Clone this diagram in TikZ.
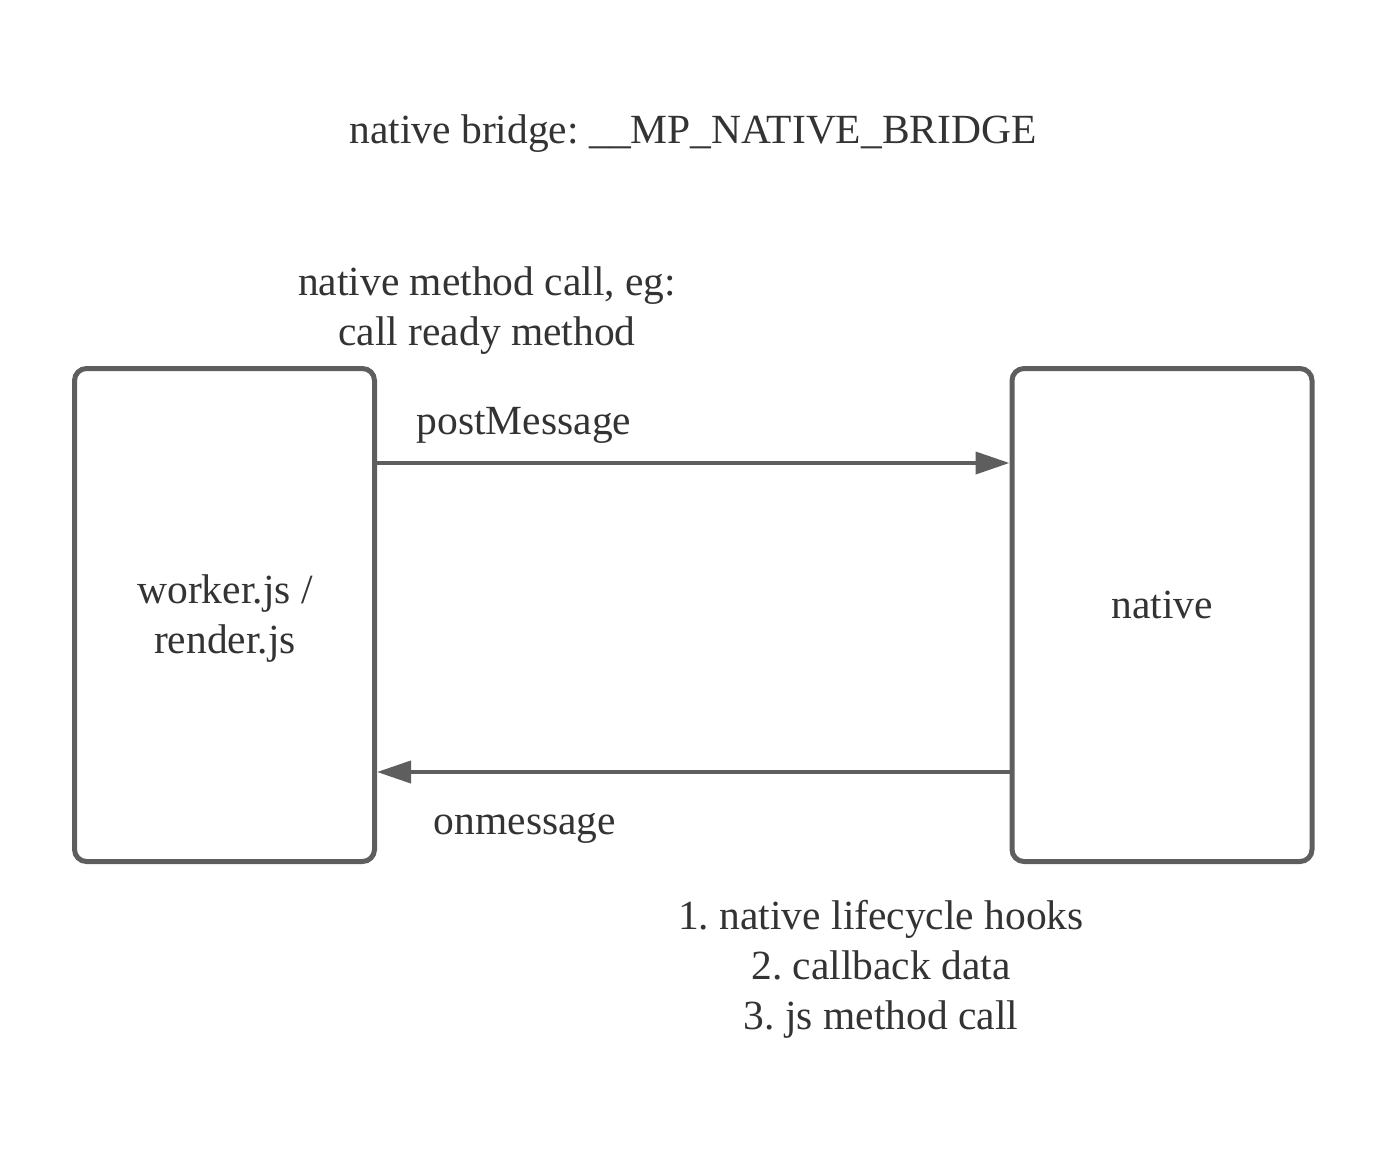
\documentclass[tikz,border=0pt]{standalone}
\usepackage{fontspec}
\setmainfont{Liberation Serif}
\usetikzlibrary{arrows.meta,calc}

\definecolor{linegray}{HTML}{5E5E5E}
\definecolor{textgray}{HTML}{333333}

\tikzset{
	block/.style={draw=linegray, line width=2.5pt, rounded corners=6pt, minimum width=150pt, minimum height=246.5pt, align=center},
	msg/.style={draw=linegray, line width=2pt, -{Triangle[length=17pt,width=11pt]}},
	lbl/.style={anchor=base, align=center, text=textgray}
}

\begin{document}
\begin{tikzpicture}[x=0.5pt, y=-0.5pt, font=\fontsize{20.75pt}{25pt}\selectfont\frenchspacing, text=textgray]
			\useasboundingbox (0,0) rectangle (1388,1157);

			\node (title) [lbl] at (693,143) {native bridge: \_\_MP\_NATIVE\_BRIDGE};

			% the two sides
			\node (worker) [block] at (224.5,615) {};
			\node (native) [block] at (1162,615) {};
			\node (workertxt) [lbl] at (225,653) {worker.js /\\render.js};
			\node (nativetxt) [lbl] at (1162,618) {native};

			% js -> native
			\coordinate (postfrom) at ($(worker.east)+(0,-152)$);
			\draw [msg] (postfrom) -- (postfrom -| native.west);
			\node (post) [lbl] at (524,434) {postMessage};
			\node (callnote) [lbl] at (487,345) {native method call, eg:\\call ready method};

			% native -> js
			\coordinate (onfrom) at ($(native.west)+(0,157)$);
			\draw [msg] (onfrom) -- (onfrom -| worker.east);
			\node (onmsg) [lbl] at (525,834) {onmessage};
			\node (hooks) [lbl] at (881,1029) {1. native lifecycle hooks\\2. callback data\\3. js method call};
		\end{tikzpicture}
\end{document}
